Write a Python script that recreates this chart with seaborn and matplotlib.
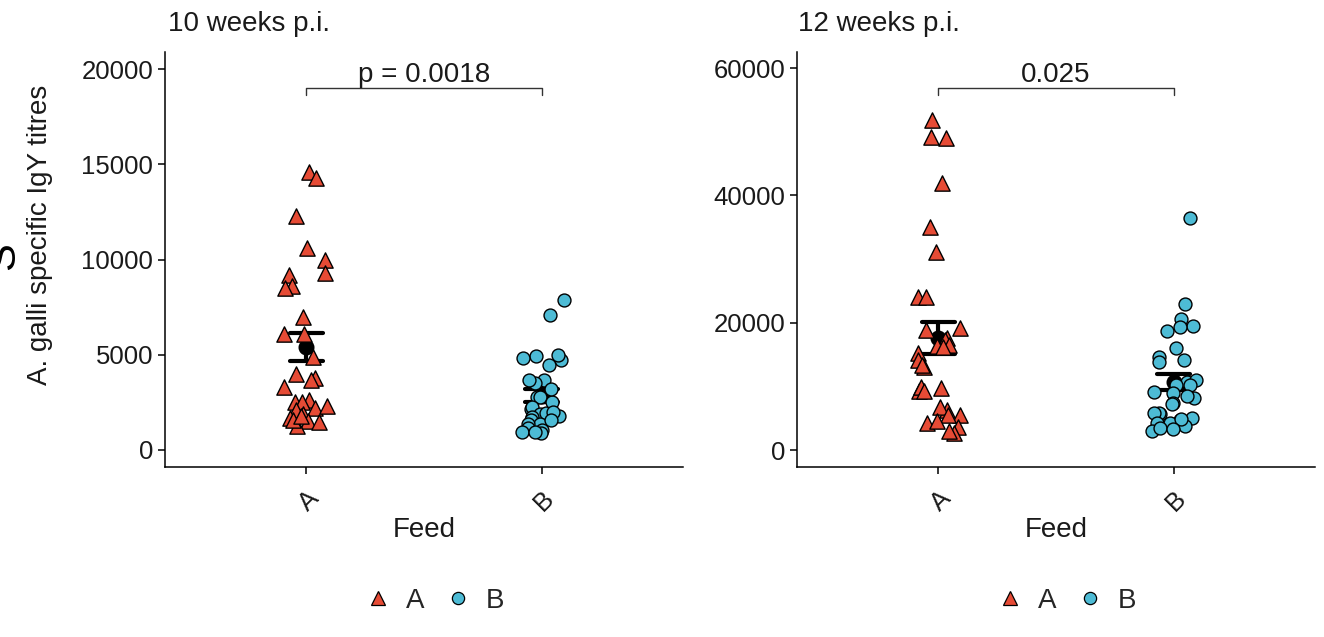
import numpy as np
import pandas as pd
import matplotlib
matplotlib.use("Agg")
import matplotlib.pyplot as plt
from matplotlib.lines import Line2D
import seaborn as sns

# ---------------- data ----------------
feeds = ["A", "B"]
panel_titles = ["10 weeks p.i.", "12 weeks p.i."]
wk10_A = [14600, 14300, 12300, 10600, 10000, 9300, 9200, 8600, 8500, 7000,
          6100, 6100, 4900, 4000, 3800, 3700, 3300, 2600, 2500, 2500,
          2100, 2200, 1900, 1700, 1500, 1450, 1250, 1600, 1800, 2300]
wk10_B = [7850, 7100, 4750, 5000, 4950, 4850, 4450, 3650, 3500, 3650,
          2800, 2800, 2150, 2250, 1900, 1800, 1950, 1750, 1600, 1350,
          1350, 1150, 1050, 950, 900, 950, 2500, 2000, 1600, 3200]
wk12_A = [51800, 49000, 49200, 42000, 35000, 31100, 24000, 24000, 19200, 18900,
          17600, 17300, 16500, 16300, 16200, 15200, 14100, 13000, 13400, 9300,
          9900, 9700, 9300, 5500, 6300, 6800, 5500, 4200, 3600, 2700, 3000, 4500]
wk12_B = [36400, 22900, 20600, 19500, 19300, 18700, 16000, 14600, 13800, 14100,
          10700, 11000, 10200, 10200, 9100, 8900, 8200, 8500, 7400, 7200,
          5700, 5800, 5800, 5000, 4700, 4200, 4200, 3000, 3500, 3800, 4800, 3300]
p_labels = ["p = 0.0018", "0.025"]
wk10_ticks = [0, 5000, 10000, 15000, 20000]
wk12_ticks = [0, 20000, 40000, 60000]
ylabel = "A. galli specific IgY titres"
xlabel = "Feed"

# ---------------- style ----------------
W, H = 1324, 637
sns.set_theme(style="ticks")
plt.rcParams["font.family"] = ["Liberation Sans", "DejaVu Sans"]
RED, BLUE = "#E64B35", "#4DBBD5"

fig = plt.figure(figsize=(W / 100, H / 100), dpi=100)

def fx(px):
    return px / W

def fy(py):
    return 1 - py / H

panels = [
    dict(A=wk10_A, B=wk10_B, ticks=wk10_ticks, ylim=(-893, 20895),
         left=165, title_x=168, p=p_labels[0], br_y=19005, br_tick=18640),
    dict(A=wk12_A, B=wk12_B, ticks=wk12_ticks, ylim=(-2670, 62530),
         left=797, title_x=798, p=p_labels[1], br_y=56870, br_tick=55770),
]

np.random.seed(3)
for i, pnl in enumerate(panels):
    ax = fig.add_axes([fx(pnl["left"]), fy(467), fx(518), (467 - 52) / H])
    dfA = pd.DataFrame({"Feed": "A", "titre": pnl["A"]})
    dfB = pd.DataFrame({"Feed": "B", "titre": pnl["B"]})
    df = pd.concat([dfA, dfB], ignore_index=True)

    sns.pointplot(data=df, x="Feed", y="titre", order=feeds, errorbar="se",
                  color="black", capsize=0.14, linestyle="none", markers="o",
                  markersize=9.5, err_kws={"linewidth": 3.0}, ax=ax, zorder=2)
    sns.stripplot(data=dfA, x="Feed", y="titre", order=feeds, marker="^",
                  color=RED, size=11, linewidth=1.0, edgecolor="black",
                  jitter=0.1, ax=ax, zorder=3)
    sns.stripplot(data=dfB, x="Feed", y="titre", order=feeds, marker="o",
                  color=BLUE, size=9.3, linewidth=1.0, edgecolor="black",
                  jitter=0.1, ax=ax, zorder=3)

    ax.set_xlim(-0.6, 1.6)
    ax.set_ylim(*pnl["ylim"])
    ax.set_yticks(pnl["ticks"])
    ax.set_yticklabels([str(t) for t in pnl["ticks"]])
    sns.despine(ax=ax)
    for s in ["left", "bottom"]:
        ax.spines[s].set_linewidth(1.1)
        ax.spines[s].set_color("black")
    ax.tick_params(axis="both", length=5, width=1.1, color="black",
                   labelsize=18.5, labelcolor="#1a1a1a")
    ax.tick_params(axis="x", pad=9)
    for lab in ax.get_xticklabels():
        lab.set_rotation(45)
        lab.set_ha("right")
        lab.set_va("top")
        lab.set_rotation_mode("anchor")
    ax.set_xlabel(xlabel, fontsize=20, color="#1a1a1a", labelpad=1)
    ax.set_ylabel("")

    # significance bracket
    ax.plot([0, 0, 1, 1], [pnl["br_tick"], pnl["br_y"], pnl["br_y"], pnl["br_tick"]],
            color="#333333", linewidth=1.0, zorder=1)
    ax.text(0.5, pnl["br_y"], pnl["p"], ha="center", va="bottom",
            fontsize=20, color="#1a1a1a")

    fig.text(fx(pnl["title_x"]), fy(31), panel_titles[i], ha="left",
             va="baseline", fontsize=20, color="#1a1a1a")

    handles = [Line2D([], [], marker="^", linestyle="none", markersize=10,
                      markerfacecolor=RED, markeredgecolor="black", markeredgewidth=0.9),
               Line2D([], [], marker="o", linestyle="none", markersize=8.8,
                      markerfacecolor=BLUE, markeredgecolor="black", markeredgewidth=0.9)]
    cx = pnl["left"] + 518 / 2 + 10
    fig.legend(handles, feeds, loc="center", bbox_to_anchor=(fx(cx), fy(601)),
               ncol=2, frameon=False, fontsize=20, handlelength=1.0,
               handletextpad=0.5, columnspacing=0.7)

fig.text(fx(40), fy(235), ylabel, rotation=90, ha="center", va="center",
         fontsize=20, color="#1a1a1a")
fig.text(fx(-17), fy(256), "S", rotation=90, ha="left", va="center",
         fontsize=30, color="black")

fig.savefig("out.png", dpi=100)
